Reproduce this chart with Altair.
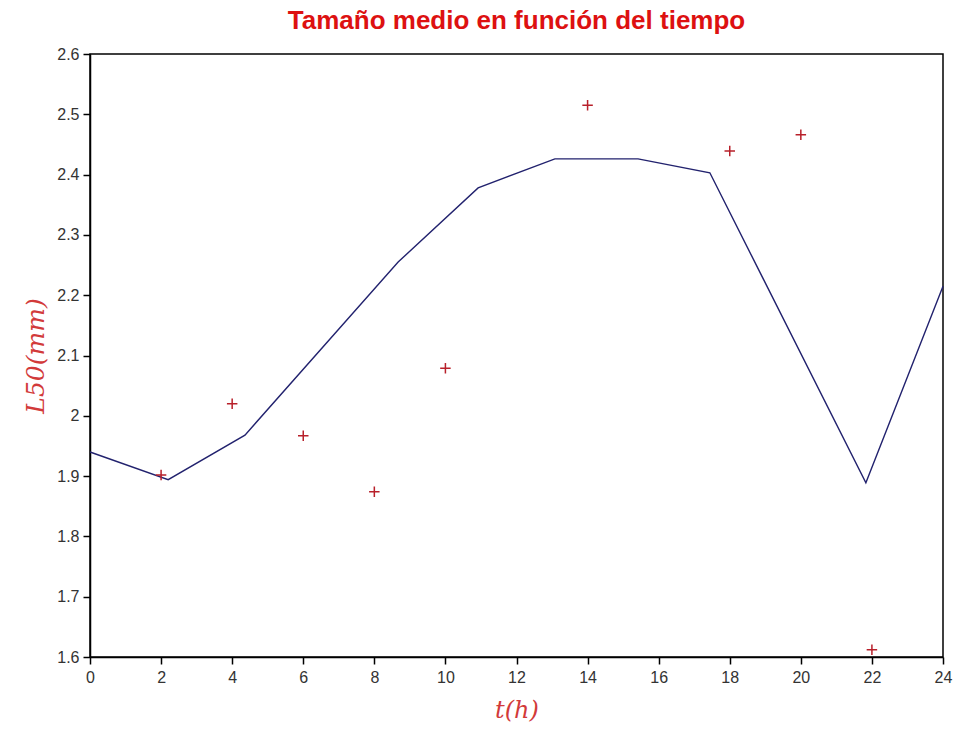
import altair as alt
import pandas as pd

# Observed mean size at each sampling time
obs_t = [2, 4, 6, 8, 10, 14, 18, 20, 22]
obs_l50 = [1.902, 2.020, 1.967, 1.874, 2.079, 2.515, 2.439, 2.466, 1.612]

# Fitted curve
fit_t = [0, 2.2, 4.36, 8.67, 10.92, 13.08, 15.42, 17.44, 21.83, 24]
fit_l50 = [1.940, 1.894, 1.968, 2.255, 2.378, 2.426, 2.426, 2.403, 1.889, 2.215]

x_ticks = list(range(0, 25))
y_ticks = [round(1.6 + 0.05 * i, 2) for i in range(21)]

obs = pd.DataFrame({"t": obs_t, "L50": obs_l50})
fit = pd.DataFrame({"t": fit_t, "L50": fit_l50})

x_scale = alt.Scale(domain=[0, 24], nice=False, zero=False)
y_scale = alt.Scale(domain=[1.6, 2.6], nice=False, zero=False)

x_axis = alt.Axis(
    values=x_ticks,
    grid=False,
    title="t(h)",
    titleFont="DejaVu Serif",
    titleFontStyle="italic",
    titleFontWeight="normal",
    titleFontSize=24,
    titleColor="#d23a3a",
    titlePadding=13,
    labelFont="Liberation Sans",
    labelFontSize=16,
    labelColor="#333333",
    labelPadding=5,
    labelFlush=False,
    labelExpr="datum.value % 2 == 0 ? datum.label : ''",
    tickSize={"condition": {"test": "datum.value % 2 == 0", "value": 7}, "value": 4},
    tickColor="#000000",
    tickWidth=1.5,
    domainColor="#000000",
    domainWidth=1.5,
)

y_axis = alt.Axis(
    values=y_ticks,
    grid=False,
    format="~g",
    title="L50(mm)",
    titleFont="DejaVu Serif",
    titleFontStyle="italic",
    titleFontWeight="normal",
    titleFontSize=25,
    titleColor="#d23a3a",
    titlePadding=8,
    labelFont="Liberation Sans",
    labelFontSize=16,
    labelColor="#333333",
    labelPadding=4,
    labelFlush=False,
    labelExpr="round(datum.value * 100) % 10 == 0 ? datum.label : ''",
    tickSize={"condition": {"test": "round(datum.value * 100) % 10 == 0", "value": 7}, "value": 4},
    tickColor="#000000",
    tickWidth=1.5,
    domainColor="#000000",
    domainWidth=1.5,
)

line = alt.Chart(fit).mark_line(color="#22226e", strokeWidth=1.4).encode(
    x=alt.X("t:Q", scale=x_scale, axis=x_axis),
    y=alt.Y("L50:Q", scale=y_scale, axis=y_axis),
)

points = alt.Chart(obs).mark_point(
    shape="M-1,0H1M0,-1V1",
    filled=False,
    color="#b8202a",
    strokeWidth=1.5,
    size=110,
    opacity=1,
).encode(
    x=alt.X("t:Q", scale=x_scale),
    y=alt.Y("L50:Q", scale=y_scale),
)

chart = (
    alt.layer(line, points)
    .properties(
        width=853,
        height=603,
        autosize=alt.AutoSizeParams(type="none"),
        padding={"left": 90, "top": 54, "right": 14, "bottom": 73},
        title=alt.TitleParams(
            "Tamaño medio en función del tiempo",
            font="Liberation Sans",
            fontSize=26,
            fontWeight="bold",
            color="#dd1111",
            anchor="middle",
            offset=12,
        ),
        background="#ffffff",
    )
    .configure_view(stroke="#000000", strokeWidth=1.5)
)

chart.save("out.html", embed_options={"renderer": "svg", "actions": False})
